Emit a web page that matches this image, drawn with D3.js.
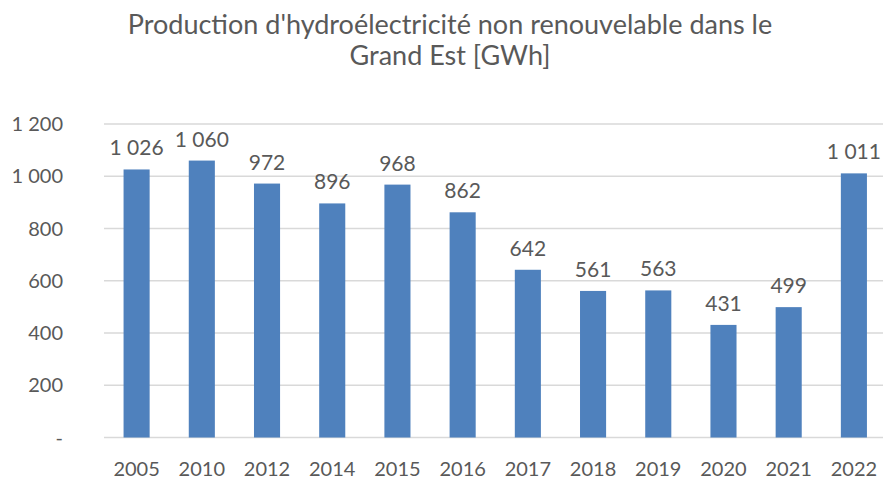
<!DOCTYPE html>
<html lang="fr">
<head>
<meta charset="UTF-8">
<title>Production d'hydroélectricité non renouvelable</title>
<script src="https://cdn.jsdelivr.net/npm/d3@7"></script>
<style>
  body { margin: 0; background: #fff; }
  text { font-family: Lato, "Open Sans", sans-serif; fill: #595959; }
</style>
</head>
<body>
<script>
// données
const years = ["2005", "2010", "2012", "2014", "2015", "2016", "2017", "2018", "2019", "2020", "2021", "2022"];
const production = [1026, 1060, 972, 896, 968, 862, 642, 561, 563, 431, 499, 1011];
const yTicks = [0, 200, 400, 600, 800, 1000, 1200];
const yTickLabels = ["-", "200", "400", "600", "800", "1 000", "1 200"];
const titleLines = ["Production d'hydroélectricité non renouvelable dans le", "Grand Est [GWh]"];

const width = 883, height = 479;
const margin = {top: 124, right: -3.5, bottom: 41.5, left: 104};

const svg = d3.select("body").append("svg")
  .attr("width", width)
  .attr("height", height);

const x = d3.scaleBand()
  .domain(years)
  .range([margin.left, width - margin.right])
  .paddingInner(0.6)
  .paddingOuter(0.3);

const y = d3.scaleLinear()
  .domain([0, 1200])
  .range([height - margin.bottom, margin.top]);

// grille
svg.append("g")
  .selectAll("line")
  .data(yTicks)
  .join("line")
  .attr("x1", margin.left)
  .attr("x2", width)
  .attr("y1", d => y(d))
  .attr("y2", d => y(d))
  .attr("stroke", "#d9d9d9")
  .attr("stroke-width", 1.5);

// axe Y
svg.append("g")
  .selectAll("text")
  .data(yTicks)
  .join("text")
  .attr("x", 63)
  .attr("y", d => y(d))
  .attr("dy", "0.35em")
  .attr("text-anchor", "end")
  .style("font-size", "20px")
  .text((d, i) => yTickLabels[i]);

// axe X
svg.append("g")
  .selectAll("text")
  .data(years)
  .join("text")
  .attr("x", d => x(d) + x.bandwidth() / 2)
  .attr("y", 476)
  .attr("text-anchor", "middle")
  .style("font-size", "20px")
  .text(d => d);

// barres
svg.append("g")
  .selectAll("rect")
  .data(production)
  .join("rect")
  .attr("x", (d, i) => x(years[i]))
  .attr("y", d => y(d))
  .attr("width", x.bandwidth())
  .attr("height", d => y(0) - y(d))
  .attr("fill", "#4f81bd");

// étiquettes
svg.append("g")
  .selectAll("text")
  .data(production)
  .join("text")
  .attr("x", (d, i) => x(years[i]) + x.bandwidth() / 2)
  .attr("y", d => y(d) - 14)
  .attr("text-anchor", "middle")
  .style("font-size", "21px")
  .text(d => d3.format(",")(d).replace(",", " "));

// titre
svg.append("g")
  .selectAll("text")
  .data(titleLines)
  .join("text")
  .attr("x", 450)
  .attr("y", (d, i) => 34 + i * 31)
  .attr("text-anchor", "middle")
  .style("font-size", "27px")
  .text(d => d);
</script>
</body>
</html>
